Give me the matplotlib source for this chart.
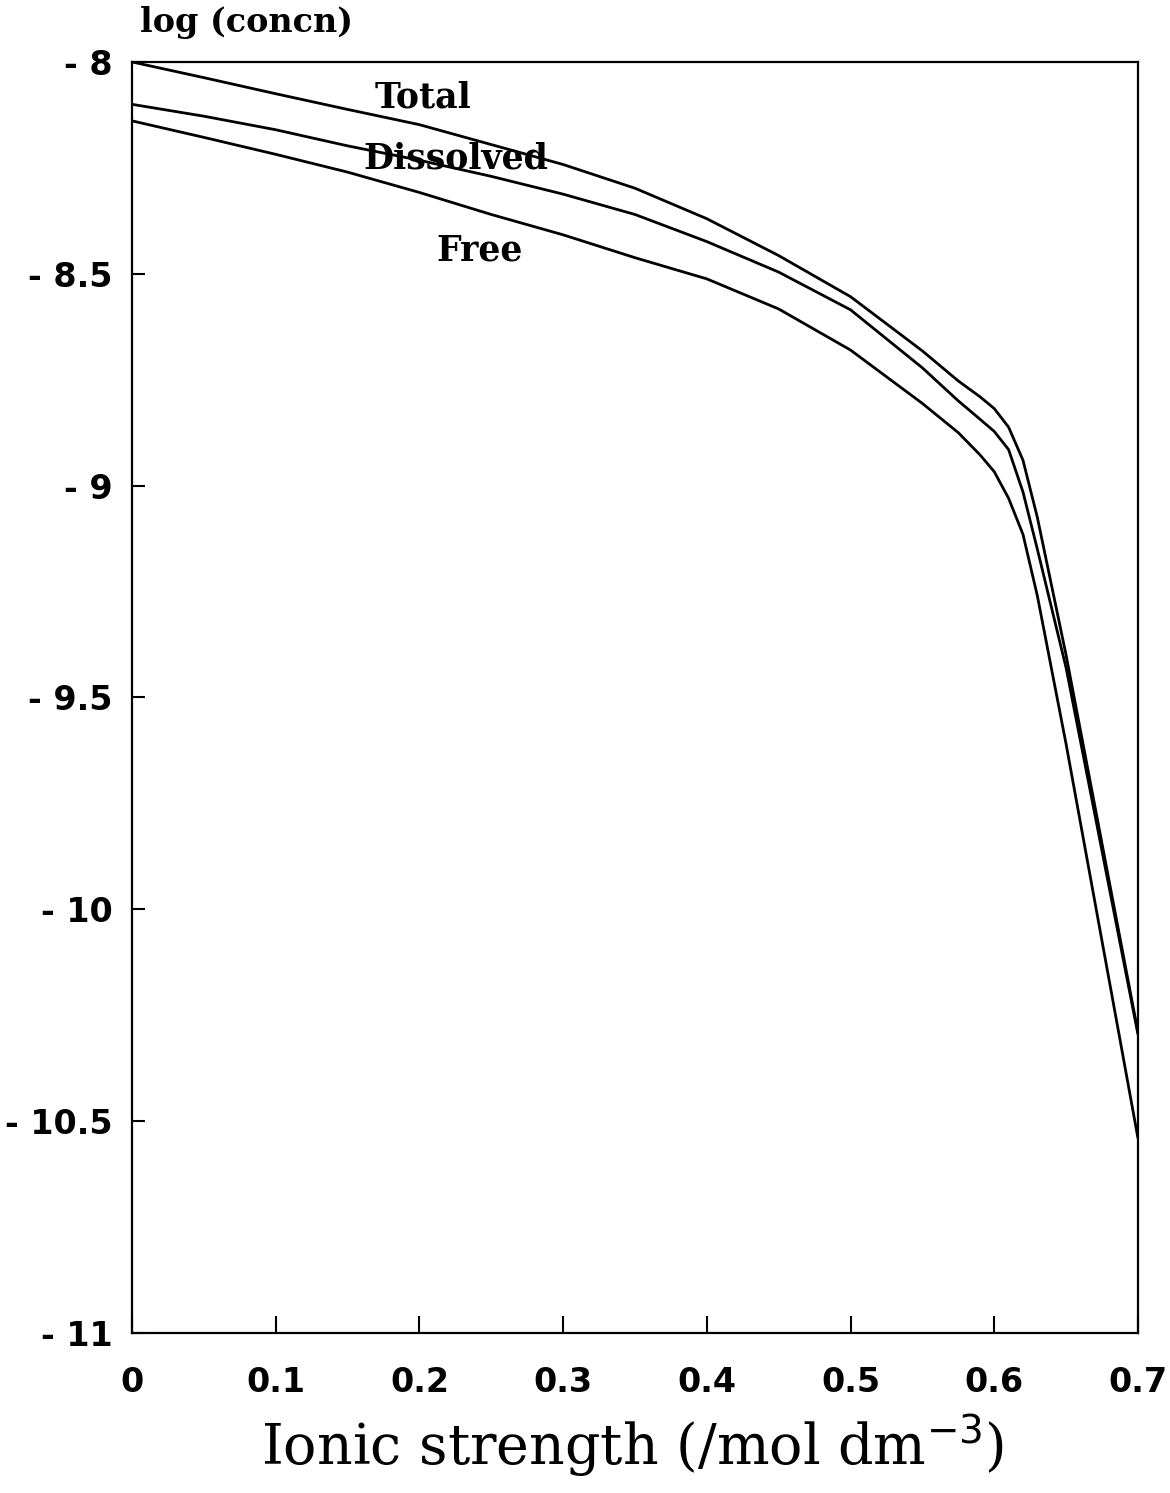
import matplotlib
matplotlib.use("Agg")
import matplotlib.pyplot as plt

# Ionic strength (mol dm^-3) at which each log concentration was computed
ionic_strength = [0.0, 0.05, 0.10, 0.15, 0.20, 0.25, 0.30, 0.35, 0.40, 0.45,
                  0.50, 0.55, 0.575, 0.59, 0.60, 0.61, 0.62, 0.63, 0.65, 0.70]

log_total = [-8.000, -8.037, -8.075, -8.112, -8.148, -8.195, -8.242, -8.298,
             -8.370, -8.457, -8.554, -8.682, -8.753, -8.790, -8.818, -8.862,
             -8.940, -9.075, -9.400, -10.290]

log_dissolved = [-8.100, -8.128, -8.160, -8.198, -8.232, -8.270, -8.312, -8.360,
                 -8.424, -8.496, -8.585, -8.722, -8.800, -8.843, -8.872, -8.915,
                 -9.015, -9.150, -9.430, -10.295]

log_free = [-8.139, -8.178, -8.218, -8.260, -8.308, -8.360, -8.408, -8.462,
            -8.512, -8.583, -8.680, -8.806, -8.875, -8.927, -8.967, -9.030,
            -9.115, -9.260, -9.610, -10.540]

series_names = ["Total", "Dissolved", "Free"]
label_positions = [(0.2025, -8.085), (0.2255, -8.227), (0.242, -8.444)]

x_ticks = [0, 0.1, 0.2, 0.3, 0.4, 0.5, 0.6, 0.7]
x_tick_labels = ["0", "0.1", "0.2", "0.3", "0.4", "0.5", "0.6", "0.7"]
y_ticks = [-8, -8.5, -9, -9.5, -10, -10.5, -11]
y_tick_labels = ["- 8", "- 8.5", "- 9", "- 9.5", "- 10", "- 10.5", "- 11"]

fig = plt.figure(figsize=(11.70, 14.93), dpi=100)
ax = fig.add_axes([0.1128, 0.1072, 0.8598, 0.8513])

for ys in (log_total, log_dissolved, log_free):
    ax.plot(ionic_strength, ys, color="black", linewidth=2.0,
            solid_joinstyle="round", solid_capstyle="round")

for name, (lx, ly) in zip(series_names, label_positions):
    ax.text(lx, ly, name, ha="center", va="center", fontsize=25,
            family="DejaVu Serif", fontweight="bold", color="black")

ax.set_xlim(0, 0.7)
ax.set_ylim(-11, -8)
ax.set_xticks(x_ticks)
ax.set_xticklabels(x_tick_labels)
ax.set_yticks(y_ticks)
ax.set_yticklabels(y_tick_labels)

ax.tick_params(axis="both", direction="in", width=1.5, colors="black",
               labelsize=24)
ax.tick_params(axis="x", length=12, pad=24)
ax.tick_params(axis="y", length=9, pad=14)
for lab in ax.get_xticklabels() + ax.get_yticklabels():
    lab.set_fontweight("bold")
    lab.set_family("DejaVu Sans")

for sp in ax.spines.values():
    sp.set_linewidth(1.6)
    sp.set_color("black")

fig.text(0.1197, 0.985, "log (concn)", ha="left", va="center",
         fontsize=24, family="DejaVu Serif", fontweight="bold")
fig.text(0.541, 0.031, r"Ionic strength (/mol dm$^{-3}$)", ha="center",
         va="center", fontsize=40, family="DejaVu Serif")

fig.savefig("out.png", dpi=100, facecolor="white")
